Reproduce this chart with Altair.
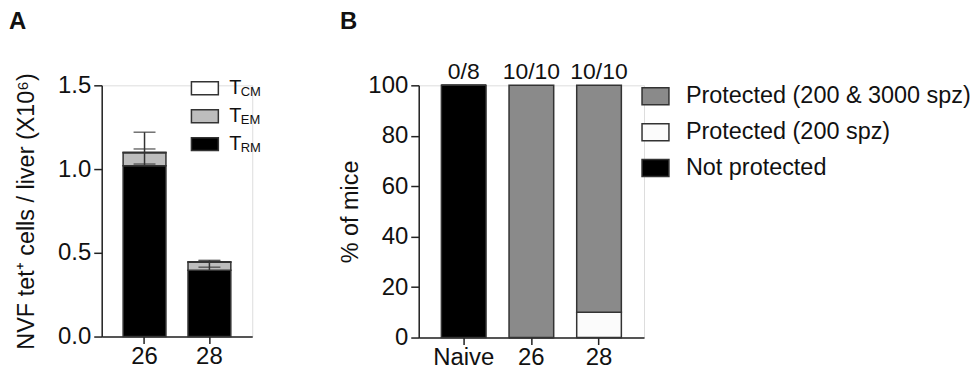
import altair as alt
import pandas as pd

FONT = "Liberation Sans"

# ---------------- Panel A data ----------------
cats_a = ["26", "28"]
subsets_a = ["TRM", "TEM", "TCM"]          # bottom -> top
trm = [1.02, 0.396]
tem = [0.078, 0.048]
tcm = [0.003, 0.003]
err_trm_hi = [1.03, 0.414]
err_tem_hi = [1.12, 0.450]
err_tcm_hi = [1.22, 0.455]
colors_a = ["#000000", "#bdbdbd", "#ffffff"]

# ---------------- Panel B data ----------------
cats_b = ["Naive", "26", "28"]
groups_b = ["Not protected", "Protected (200 spz)", "Protected (200 & 3000 spz)"]  # bottom -> top
not_prot = [100, 0, 0]
prot_200 = [0, 0, 10]
prot_both = [0, 100, 90]
counts_b = ["0/8", "10/10", "10/10"]
colors_b = ["#000000", "#fbfbfb", "#8a8a8a"]
legend_b_order = ["Protected (200 & 3000 spz)", "Protected (200 spz)", "Not protected"]

# ---------------- build tables ----------------
rows = []
for i, c in enumerate(cats_a):
    for k, (s, vals) in enumerate(zip(subsets_a, [trm, tem, tcm])):
        rows.append({"cat": c, "subset": s, "v": vals[i], "o": k})
df_a = pd.DataFrame(rows)

err_rule = pd.DataFrame({"cat": cats_a, "lo": trm,
                         "hi": [max(a, b, c) for a, b, c in zip(err_trm_hi, err_tem_hi, err_tcm_hi)]})
caps = pd.DataFrame({"cat": cats_a * 3, "v": err_trm_hi + err_tem_hi + err_tcm_hi})

rows = []
for i, c in enumerate(cats_b):
    for k, (g, vals) in enumerate(zip(groups_b, [not_prot, prot_200, prot_both])):
        rows.append({"cat": c, "group": g, "v": vals[i], "o": k})
df_b = pd.DataFrame(rows)
df_counts = pd.DataFrame({"cat": cats_b, "label": counts_b,
                          "top": [a + b + c for a, b, c in zip(not_prot, prot_200, prot_both)]})

axis_common = dict(domainColor="#222222", domainWidth=1.5, tickColor="#222222", tickWidth=1.5,
                   labelColor="#111111", labelFont=FONT, labelFontSize=24,
                   titleColor="#111111", titleFont=FONT, titleFontSize=23.5, titleFontWeight="normal",
                   grid=False)

# ---------------- Panel A ----------------
WA, HA = 151, 252
xa = alt.X("cat:N", sort=cats_a, title=None,
           scale=alt.Scale(paddingInner=0.34, paddingOuter=0.33),
           axis=alt.Axis(labelAngle=0, tickSize=7, labelPadding=1, **axis_common))
ya_scale = alt.Scale(domain=[0, 1.5], nice=False)

bars_a = alt.Chart(df_a).mark_bar(stroke="#333333", strokeWidth=1.5).encode(
    x=xa,
    y=alt.Y("sum(v):Q", scale=ya_scale, stack="zero",
            title="NVF tet⁺ cells / liver (X10⁶)",
            axis=alt.Axis(values=[0, 0.5, 1.0, 1.5], format=".1f", tickSize=8, labelPadding=3,
                          titlePadding=19, **axis_common)),
    fill=alt.Fill("subset:N", scale=alt.Scale(domain=subsets_a, range=colors_a), legend=None),
    order=alt.Order("o:Q", sort="ascending"),
)
rule_a = alt.Chart(err_rule).mark_rule(color="#333333", strokeWidth=1.5).encode(
    x=alt.X("cat:N", sort=cats_a), y=alt.Y("lo:Q", scale=ya_scale), y2="hi:Q")
caps_a = alt.Chart(caps).mark_tick(color="#333333", thickness=1.5, size=22, orient="horizontal").encode(
    x=alt.X("cat:N", sort=cats_a), y=alt.Y("v:Q", scale=ya_scale))

leg_a_layers = []
leg_a_items = [("CM", "#ffffff"), ("EM", "#bdbdbd"), ("RM", "#000000")]
for j, (sub, col) in enumerate(leg_a_items):
    cy = 3 + 28 * j
    d = pd.DataFrame({"t": ["T"], "s": [sub]})
    leg_a_layers.append(alt.Chart(d).mark_rect(fill=col, stroke="#333333", strokeWidth=1.5).encode(
        x=alt.value(90), x2=alt.value(117), y=alt.value(cy - 6.5), y2=alt.value(cy + 6.5)))
    leg_a_layers.append(alt.Chart(d).mark_text(font=FONT, fontSize=20, align="left", baseline="middle",
                                               color="#111111").encode(
        text="t:N", x=alt.value(128), y=alt.value(cy)))
    leg_a_layers.append(alt.Chart(d).mark_text(font=FONT, fontSize=13, align="left", baseline="middle",
                                               color="#111111").encode(
        text="s:N", x=alt.value(139.5), y=alt.value(cy + 4)))

title_a = alt.Chart(pd.DataFrame({"t": ["A"]})).mark_text(
    font=FONT, fontSize=24, fontWeight="bold", align="left", baseline="alphabetic", color="#111111"
).encode(text="t:N", x=alt.value(-93), y=alt.value(-57))

panel_a = alt.layer(bars_a, rule_a, caps_a, *leg_a_layers, title_a).properties(width=WA, height=HA)

# ---------------- Panel B ----------------
WB, HB = 226, 253
xb = alt.X("cat:N", sort=cats_b, title=None,
           scale=alt.Scale(paddingInner=0.34, paddingOuter=0.335),
           axis=alt.Axis(labelAngle=0, tickSize=7, labelPadding=1, **axis_common))
yb_scale = alt.Scale(domain=[0, 100], nice=False)

bars_b = alt.Chart(df_b).mark_bar(stroke="#333333", strokeWidth=1.5).encode(
    x=xb,
    y=alt.Y("sum(v):Q", scale=yb_scale, stack="zero", title="% of mice",
            axis=alt.Axis(values=[0, 20, 40, 60, 80, 100], tickSize=8, labelPadding=3,
                          titlePadding=5, **axis_common)),
    fill=alt.Fill("group:N", scale=alt.Scale(domain=groups_b, range=colors_b), legend=None),
    order=alt.Order("o:Q", sort="ascending"),
)
count_txt = alt.Chart(df_counts).mark_text(font=FONT, fontSize=23, baseline="alphabetic", dy=-6,
                                           color="#111111").encode(
    x=alt.X("cat:N", sort=cats_b), y=alt.Y("top:Q", scale=yb_scale), text="label:N")

leg_b_layers = []
for j, g in enumerate(legend_b_order):
    cy = 11 + 36 * j
    col = colors_b[groups_b.index(g)]
    d = pd.DataFrame({"t": [g]})
    leg_b_layers.append(alt.Chart(d).mark_rect(fill=col, stroke="#333333", strokeWidth=1.5).encode(
        x=alt.value(224), x2=alt.value(251), y=alt.value(cy - 8.5), y2=alt.value(cy + 8.5)))
    leg_b_layers.append(alt.Chart(d).mark_text(font=FONT, fontSize=23.5, align="left", baseline="middle",
                                               color="#111111").encode(
        text="t:N", x=alt.value(268), y=alt.value(cy)))

title_b = alt.Chart(pd.DataFrame({"t": ["B"]})).mark_text(
    font=FONT, fontSize=24, fontWeight="bold", align="left", baseline="alphabetic", color="#111111"
).encode(text="t:N", x=alt.value(-79), y=alt.value(-56.5))

panel_b = alt.layer(bars_b, count_txt, *leg_b_layers, title_b).properties(width=WB, height=HB)

chart = alt.hconcat(panel_a, panel_b, spacing=167, bounds="flush").resolve_scale(
    fill="independent", x="independent", y="independent"
).properties(
    padding={"left": 0, "top": 0, "right": 0, "bottom": 0}
).configure_view(stroke=None).configure(background="white")

chart.save("out.html", embed_options={"renderer": "svg", "actions": False})
